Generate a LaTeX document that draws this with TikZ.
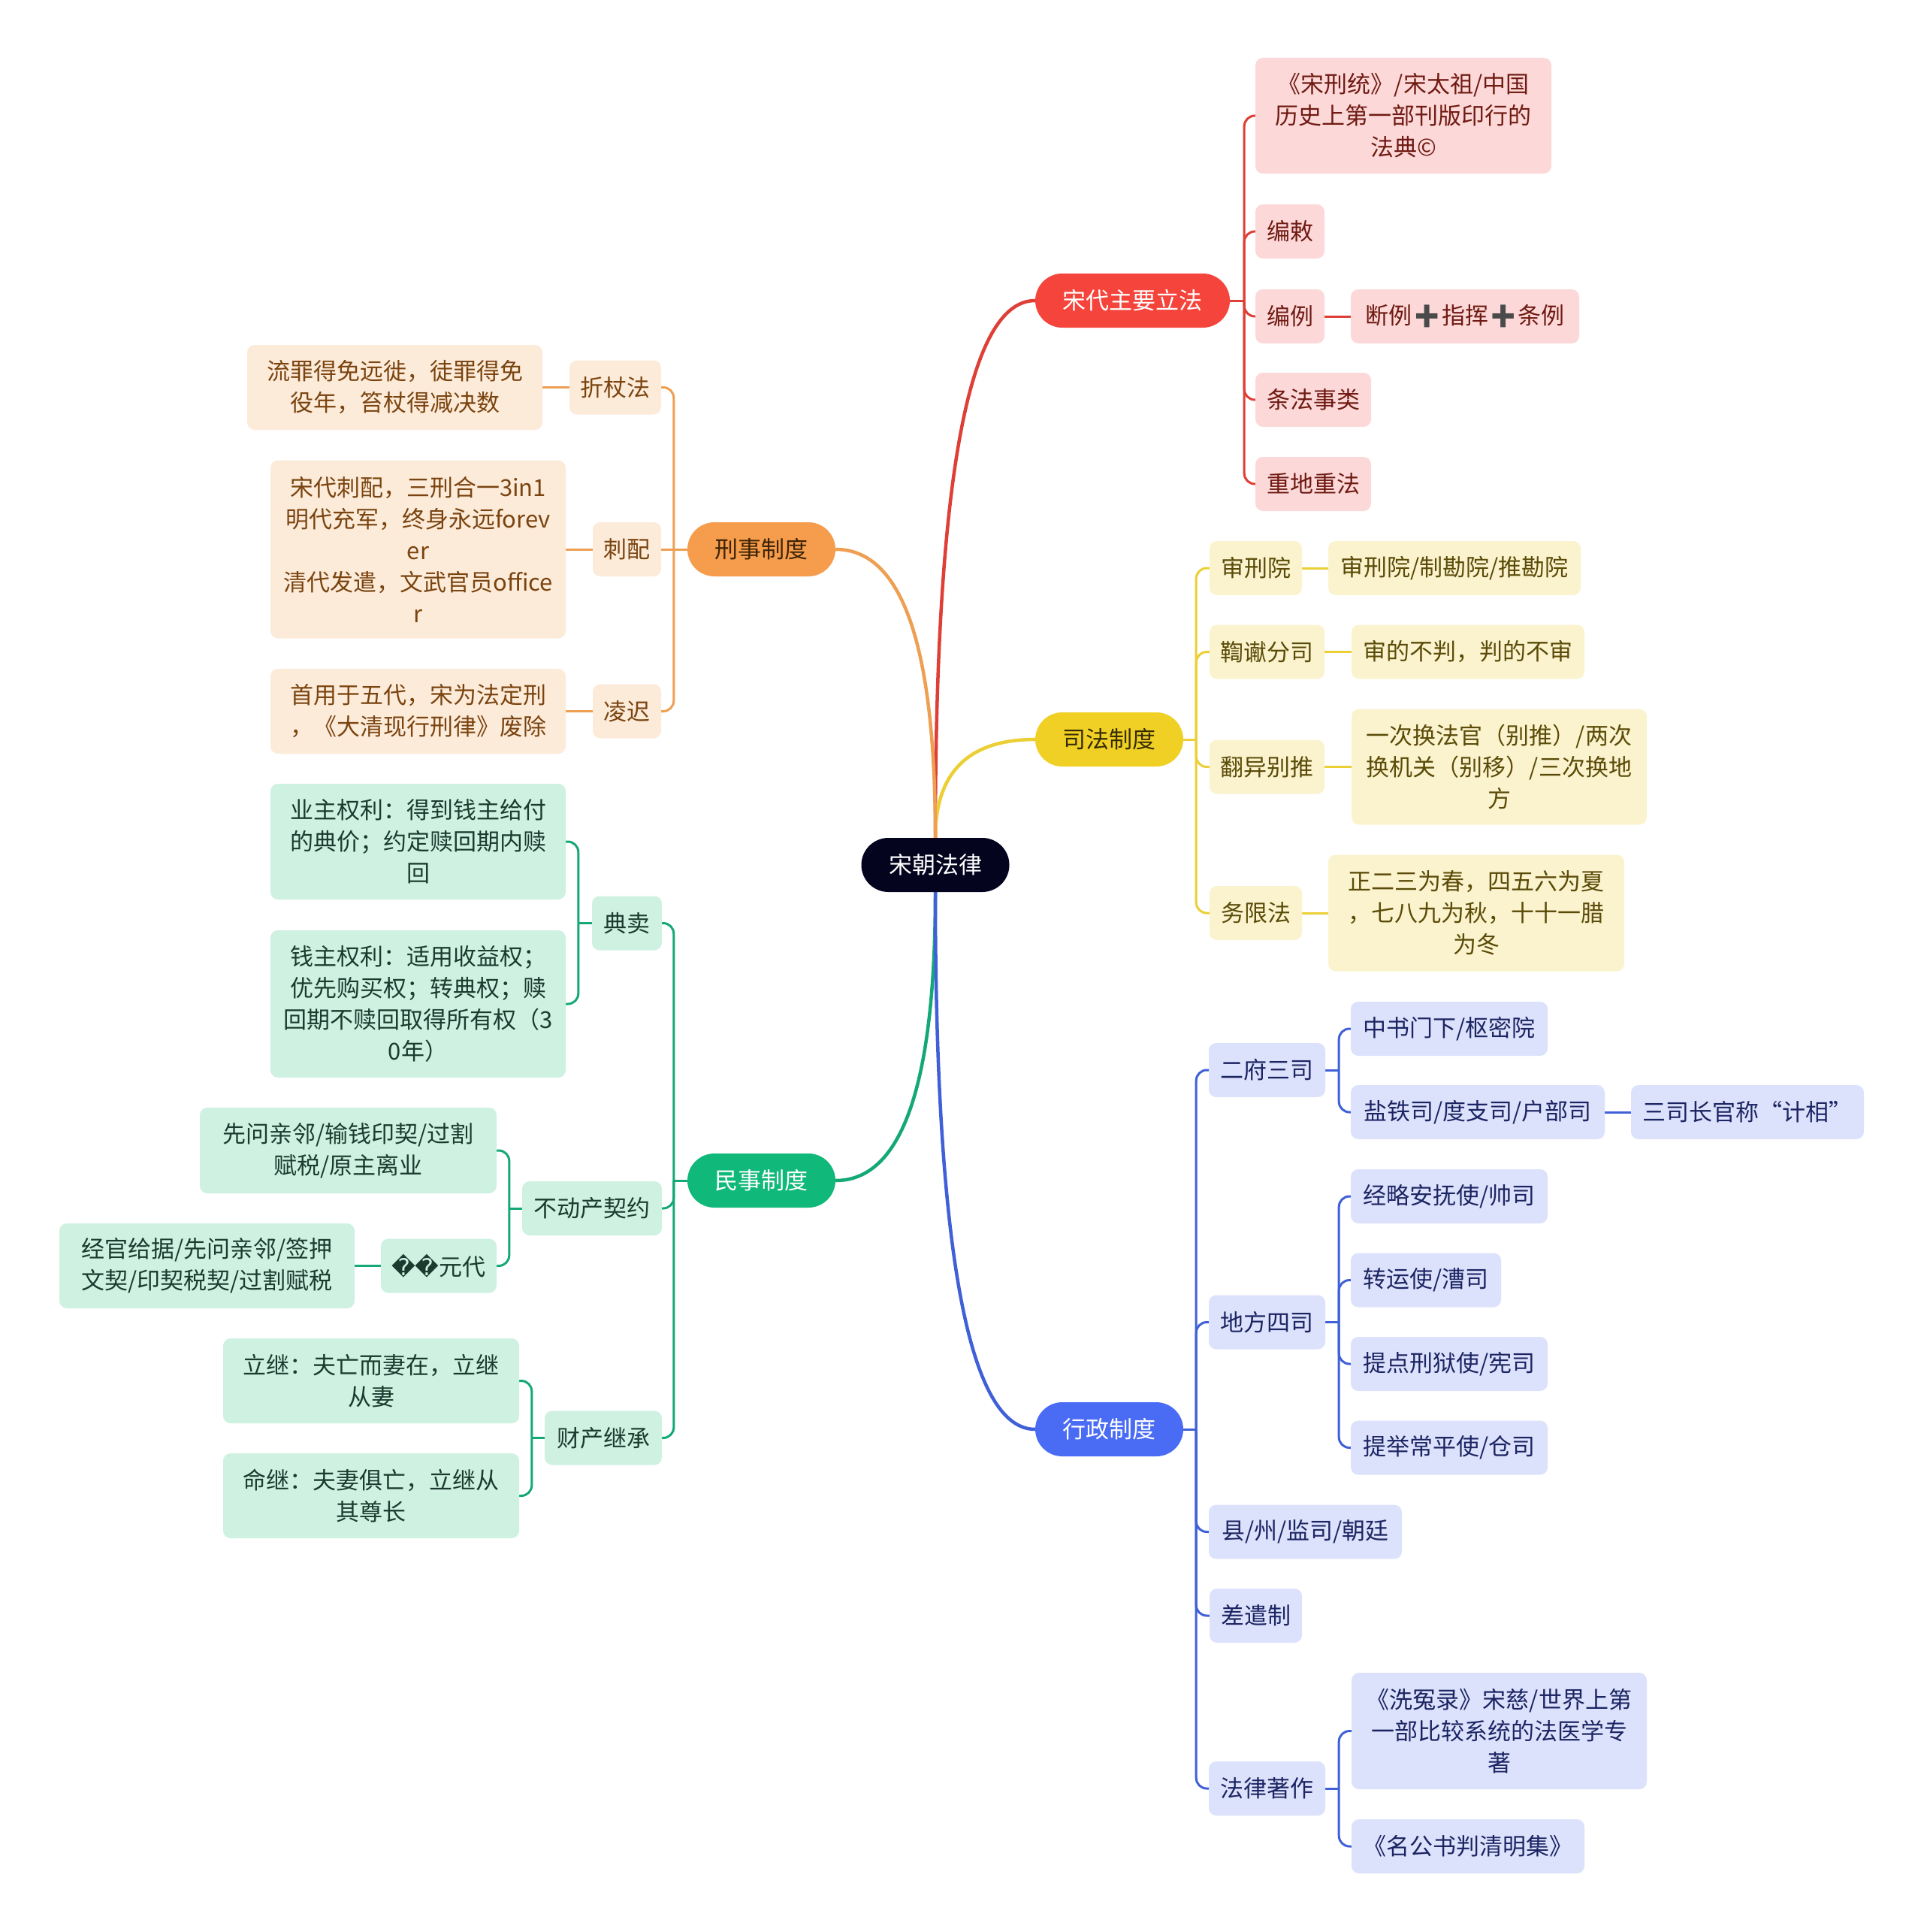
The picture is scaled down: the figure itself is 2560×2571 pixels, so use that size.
\documentclass[tikz,border=0pt]{standalone}
\usepackage{fontspec}
\setmainfont{Noto Sans CJK SC}
\newfontfamily\emojifont{Noto Emoji}
\newfontfamily\dvfont{DejaVu Sans}
\usetikzlibrary{calc}
\pgfdeclarelayer{bg}
\pgfsetlayers{bg,main}

\definecolor{cnavy}{HTML}{04041F}
\definecolor{cred}{HTML}{F5443B}
\definecolor{credl}{HTML}{DE3F37}
\definecolor{credf}{HTML}{FCD9D8}
\definecolor{credt}{HTML}{6F1A12}
\definecolor{corg}{HTML}{F59D4C}
\definecolor{corgl}{HTML}{EE9F52}
\definecolor{corgf}{HTML}{FDEBD9}
\definecolor{corgt}{HTML}{7A4410}
\definecolor{corgmt}{HTML}{3D2306}
\definecolor{cyel}{HTML}{F0D024}
\definecolor{cyell}{HTML}{EBCF35}
\definecolor{cyelf}{HTML}{FBF3CE}
\definecolor{cyelt}{HTML}{5A4B08}
\definecolor{cyelmt}{HTML}{352C02}
\definecolor{cgrn}{HTML}{10B87A}
\definecolor{cgrnl}{HTML}{15A877}
\definecolor{cgrnf}{HTML}{CEF1E1}
\definecolor{cgrnt}{HTML}{1C3A30}
\definecolor{cblu}{HTML}{4A6CF5}
\definecolor{cblul}{HTML}{4060D8}
\definecolor{cbluf}{HTML}{DCE2FB}
\definecolor{cblut}{HTML}{1C2563}
\definecolor{cplus}{HTML}{4A4A4A}

\tikzset{
  base/.style={inner sep=0pt, align=center, font=\fontsize{31}{42}\selectfont},
  mainbox/.style={base, rounded corners=36pt, minimum height=72pt},
  sub/.style={base, rounded corners=10pt, minimum height=72pt},
  redsub/.style={sub, fill=credf, text=credt},
  orgsub/.style={sub, fill=corgf, text=corgt},
  yelsub/.style={sub, fill=cyelf, text=cyelt},
  grnsub/.style={sub, fill=cgrnf, text=cgrnt},
  blusub/.style={sub, fill=cbluf, text=cblut},
  bw/.style={minimum width=#1pt},
  bh/.style={minimum height=#1pt},
  mainline/.style={line width=4.5pt},
  subline/.style={line width=3pt, rounded corners=14pt},
}

\newcommand\mcurve[3]{\draw[mainline,draw=#1] (#2) .. controls ($(#2)!0.667!(#2|-#3)$) and ($(#3)!0.667!(#2|-#3)$) .. (#3);}
\newcommand\plusglyph{{\emojifont\color{cplus}\symbol{"2795}}}

\begin{document}
\begin{tikzpicture}[x=1pt,y=-1pt]
\useasboundingbox (0,0) rectangle (2560,2571);

% centre
\node[mainbox, fill=cnavy, text=white, bw=197] (C) at (1245,1151) {宋朝法律};

% main branches
\node[mainbox, fill=cred, text=white, bw=259] (law) at (1507.5,400) {宋代主要立法};
\node[mainbox, fill=cyel, text=cyelmt, bw=197] (judic) at (1476.5,984) {司法制度};
\node[mainbox, fill=cblu, text=white, bw=197] (admin) at (1476.5,1902) {行政制度};
\node[mainbox, fill=corg, text=corgmt, bw=197] (crim) at (1013.5,731) {刑事制度};
\node[mainbox, fill=cgrn, text=white, bw=197] (civil) at (1013.5,1571) {民事制度};

% red children
\node[redsub, bw=394, bh=154] (r1) at (1868,154) {《宋刑统》/宋太祖/中国\\历史上第一部刊版印行的\\法典©};
\node[redsub, bw=92] (r2) at (1717,308) {编敕};
\node[redsub, bw=92] (r3) at (1717,421) {编例};
\node[redsub, bw=304] (r3a) at (1950,421) {断例\plusglyph 指挥\plusglyph 条例};
\node[redsub, bw=154] (r4) at (1748,532) {条法事类};
\node[redsub, bw=154] (r5) at (1748,644) {重地重法};

% yellow children
\node[yelsub, bw=123] (y1) at (1671.5,756) {审刑院};
\node[yelsub, bw=336] (y1a) at (1936,756) {审刑院/制勘院/推勘院};
\node[yelsub, bw=153] (y2) at (1686.5,867.5) {鞫谳分司};
\node[yelsub, bw=310] (y2a) at (1954,867.5) {审的不判，判的不审};
\node[yelsub, bw=153] (y3) at (1686.5,1020.5) {翻异别推};
\node[yelsub, bw=393, bh=154] (y3a) at (1995.5,1020.5) {一次换法官（别推）/两次\\换机关（别移）/三次换地\\方};
\node[yelsub, bw=123] (y4) at (1671.5,1215) {务限法};
\node[yelsub, bw=394, bh=155] (y4a) at (1965,1215) {正二三为春，四五六为夏\\，七八九为秋，十十一腊\\为冬};

% blue children
\node[blusub, bw=155] (b1) at (1686.5,1424) {二府三司};
\node[blusub, bw=262] (b1a) at (1929,1369) {中书门下/枢密院};
\node[blusub, bw=338] (b1b) at (1967,1480) {盐铁司/度支司/户部司};
\node[blusub, bw=310] (b1b1) at (2326,1480) {三司长官称“计相”};
\node[blusub, bw=155] (b2) at (1686.5,1759.5) {地方四司};
\node[blusub, bw=262] (b2a) at (1929,1592) {经略安抚使/帅司};
\node[blusub, bw=200] (b2b) at (1898,1703.5) {转运使/漕司};
\node[blusub, bw=262] (b2c) at (1929,1815) {提点刑狱使/宪司};
\node[blusub, bw=262] (b2d) at (1929,1926.5) {提举常平使/仓司};
\node[blusub, bw=257] (b3) at (1737.5,2038.5) {县/州/监司/朝廷};
\node[blusub, bw=123] (b4) at (1671.5,2150) {差遣制};
\node[blusub, bw=155] (b5) at (1686.5,2380) {法律著作};
\node[blusub, bw=393, bh=155] (b5a) at (1995.5,2303.5) {《洗冤录》宋慈/世界上第\\一部比较系统的法医学专\\著};
\node[blusub, bw=310] (b5b) at (1954,2457) {《名公书判清明集》};

% orange children
\node[orgsub, bw=122] (o1) at (819,515.5) {折杖法};
\node[orgsub, bw=393, bh=113] (o1a) at (525.5,515.5) {流罪得免远徙，徒罪得免\\役年，笞杖得减决数};
\node[orgsub, bw=91] (o2) at (834.5,731) {刺配};
\node[orgsub, bw=393, bh=237] (o2a) at (556.5,731) {宋代刺配，三刑合一3in1\\明代充军，终身永远forev\\er\\清代发遣，文武官员office\\r};
\node[orgsub, bw=91] (o3) at (834.5,946.5) {凌迟};
\node[orgsub, bw=393, bh=113] (o3a) at (556.5,946.5) {首用于五代，宋为法定刑\\，《大清现行刑律》废除};

% green children
\node[grnsub, bw=93] (g1) at (834.5,1228.5) {典卖};
\node[grnsub, bw=393, bh=154] (g1a) at (556.5,1120) {业主权利：得到钱主给付\\的典价；约定赎回期内赎\\回};
\node[grnsub, bw=393, bh=196] (g1b) at (556.5,1336) {钱主权利：适用收益权；\\优先购买权；转典权；赎\\回期不赎回取得所有权（3\\0年）};
\node[grnsub, bw=186] (g2) at (788,1608) {不动产契约};
\node[grnsub, bw=395, bh=114] (g2a) at (463.5,1531) {先问亲邻/输钱印契/过割\\赋税/原主离业};
\node[grnsub, bw=154] (g2b) at (584,1684.5) {{\dvfont\symbol{"FFFD}\symbol{"FFFD}}元代};
\node[grnsub, bw=393, bh=113] (g2b1) at (275.5,1684.5) {经官给据/先问亲邻/签押\\文契/印契税契/过割赋税};
\node[grnsub, bw=156] (g3) at (803,1913.5) {财产继承};
\node[grnsub, bw=394, bh=113] (g3a) at (494,1837.5) {立继：夫亡而妻在，立继\\从妻};
\node[grnsub, bw=394, bh=113] (g3b) at (494,1990.5) {命继：夫妻俱亡，立继从\\其尊长};

\begin{pgfonlayer}{bg}
\fill[white] (0,0) rectangle (2560,2571);
% main curves
\mcurve{credl}{C.north}{law.west}
\mcurve{cyell}{C.north}{judic.west}
\mcurve{corgl}{C.north}{crim.east}
\mcurve{cgrnl}{C.south}{civil.east}
\mcurve{cblul}{C.south}{admin.west}

% red bus
\coordinate (lawj) at ($(law.east)+(19,0)$);
\draw[subline, credl] (law.east) -- (lawj);
\foreach \c in {r1,r2,r3,r4,r5} \draw[subline, credl] (lawj) |- (\c.west);
\draw[subline, credl] (r3.east) -- (r3a.west);

% yellow bus
\coordinate (judj) at ($(judic.east)+(17,0)$);
\draw[subline, cyell] (judic.east) -- (judj);
\foreach \c in {y1,y2,y3,y4} \draw[subline, cyell] (judj) |- (\c.west);
\draw[subline, cyell] (y1.east) -- (y1a.west);
\draw[subline, cyell] (y2.east) -- (y2a.west);
\draw[subline, cyell] (y3.east) -- (y3a.west);
\draw[subline, cyell] (y4.east) -- (y4a.west);

% blue bus
\coordinate (admj) at ($(admin.east)+(17,0)$);
\draw[subline, cblul] (admin.east) -- (admj);
\foreach \c in {b1,b2,b3,b4,b5} \draw[subline, cblul] (admj) |- (\c.west);
\coordinate (b1j) at ($(b1.east)+(18,0)$);
\draw[subline, cblul] (b1.east) -- (b1j);
\foreach \c in {b1a,b1b} \draw[subline, cblul] (b1j) |- (\c.west);
\draw[subline, cblul] (b1b.east) -- (b1b1.west);
\coordinate (b2j) at ($(b2.east)+(18,0)$);
\draw[subline, cblul] (b2.east) -- (b2j);
\foreach \c in {b2a,b2b,b2c,b2d} \draw[subline, cblul] (b2j) |- (\c.west);
\coordinate (b5j) at ($(b5.east)+(18,0)$);
\draw[subline, cblul] (b5.east) -- (b5j);
\foreach \c in {b5a,b5b} \draw[subline, cblul] (b5j) |- (\c.west);

% orange bus
\coordinate (crj) at ($(crim.west)+(-18,0)$);
\draw[subline, corgl] (crim.west) -- (crj);
\foreach \c in {o1,o3} \draw[subline, corgl] (crj) |- (\c.east);
\draw[subline, corgl] (crj) -- (o2.east);
\draw[subline, corgl] (o1.west) -- (o1a.east);
\draw[subline, corgl] (o2.west) -- (o2a.east);
\draw[subline, corgl] (o3.west) -- (o3a.east);

% green bus
\coordinate (cvj) at ($(civil.west)+(-18,0)$);
\draw[subline, cgrnl] (civil.west) -- (cvj);
\foreach \c in {g1,g2,g3} \draw[subline, cgrnl] (cvj) |- (\c.east);
\coordinate (g1j) at ($(g1.west)+(-18,0)$);
\draw[subline, cgrnl] (g1.west) -- (g1j);
\foreach \c in {g1a,g1b} \draw[subline, cgrnl] (g1j) |- (\c.east);
\coordinate (g2j) at ($(g2.west)+(-17,0)$);
\draw[subline, cgrnl] (g2.west) -- (g2j);
\foreach \c in {g2a,g2b} \draw[subline, cgrnl] (g2j) |- (\c.east);
\draw[subline, cgrnl] (g2b.west) -- (g2b1.east);
\coordinate (g3j) at ($(g3.west)+(-17,0)$);
\draw[subline, cgrnl] (g3.west) -- (g3j);
\foreach \c in {g3a,g3b} \draw[subline, cgrnl] (g3j) |- (\c.east);
\end{pgfonlayer}
\end{tikzpicture}
\end{document}
